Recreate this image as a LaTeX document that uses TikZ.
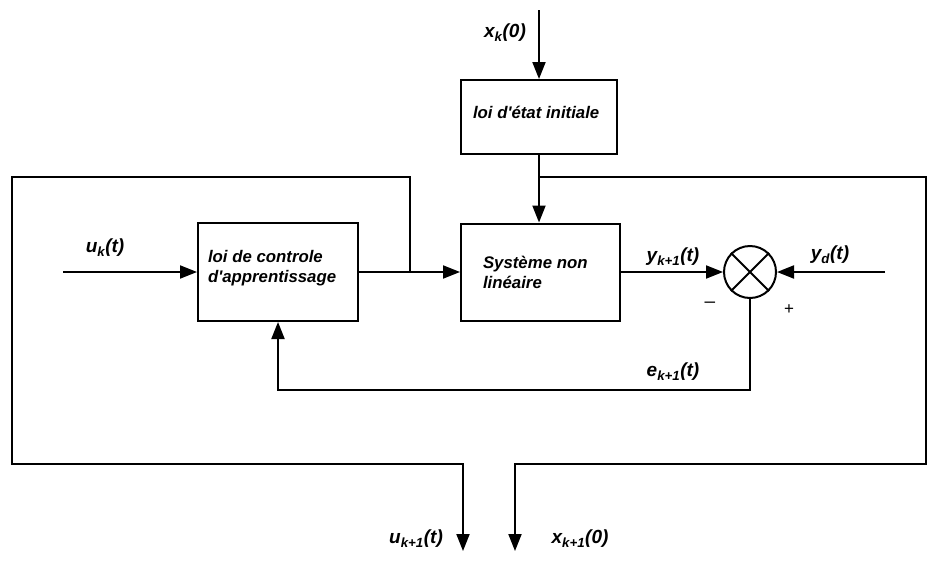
\documentclass[tikz,border=0pt]{standalone}
\usepackage{fontspec}
\setmainfont{Liberation Sans}
\usetikzlibrary{arrows.meta}
\newcommand{\apos}{\textquotesingle}
\begin{document}
\begin{tikzpicture}[x=1pt,y=-1pt,
  line width=2pt,
  arr/.style={-{Triangle[length=17pt,width=13pt]}},
  blk/.style={draw,rectangle,minimum width=#1,inner sep=0pt},
  txt/.style={font=\fontsize{16.8}{20}\selectfont\bfseries\itshape,align=left,inner sep=0pt},
  lbl/.style={font=\fontsize{19}{20}\selectfont\bfseries\itshape,inner sep=0pt}
]
\useasboundingbox (0,0) rectangle (928,560);
% blocks
\node[blk=156pt,minimum height=74pt] (init) at (539,117) {};
\node[blk=160pt,minimum height=98pt] (ctrl) at (278,272) {};
\node[blk=159pt,minimum height=97pt] (sys) at (540.5,272) {};
\node[draw,circle,minimum size=52pt,inner sep=0pt] (sum) at (750,272) {};
\draw (sum.45) -- (sum.225) (sum.135) -- (sum.315);
% block texts
\node[txt,anchor=west] (tinit) at (472,112) {loi d\apos état initiale};
\node[txt,anchor=west] (tctrl) at (207,268) {loi de controle\\d\apos apprentissage};
\node[txt,anchor=west] (tsys) at (482,272) {Système non\\linéaire};
% coordinates
\coordinate (xin) at (539,10);
\coordinate (uin) at (63,272);
\coordinate (ydin) at (885,272);
\coordinate (j1) at (539,177);
\coordinate (j2) at (410,272);
\coordinate (uout) at (463,551);
\coordinate (xout) at (515,551);
% connectors
\draw[arr] (xin) -- (init.north);
\draw[arr] (init.south) -- (init.south |- sys.north);
\draw[arr] (uin) -- (ctrl.west);
\draw[arr] (ctrl.east) -- (sys.west);
\draw[arr] (sys.east) -- (sum.west);
\draw[arr] (ydin) -- (sum.east);
\draw[arr] (sum.south) |- (278,390) -- (ctrl.south);
\draw[arr] (j2) -- (410,177) -- (12,177) -- (12,464) -| (uout);
\draw[arr] (j1) -- (926,177) -- (926,464) -| (xout);
% labels
\node[lbl] (lxk) at (505,33) {x\textsubscript{k}(0)};
\node[lbl] (luk) at (105,248) {u\textsubscript{k}(t)};
\node[lbl] (lyk) at (673,257) {y\textsubscript{k+1}(t)};
\node[lbl] (lyd) at (830,255) {y\textsubscript{d}(t)};
\node[lbl] (lek) at (673,372) {e\textsubscript{k+1}(t)};
\node[lbl] (luk1) at (416,539) {u\textsubscript{k+1}(t)};
\node[lbl] (lxk1) at (580,539) {x\textsubscript{k+1}(0)};
\node[font=\fontsize{19}{19}\selectfont,inner sep=0pt] (minus) at (710,305) {–};
\node[font=\fontsize{17}{17}\selectfont,inner sep=0pt] (plus) at (789,310) {+};
\end{tikzpicture}
\end{document}
